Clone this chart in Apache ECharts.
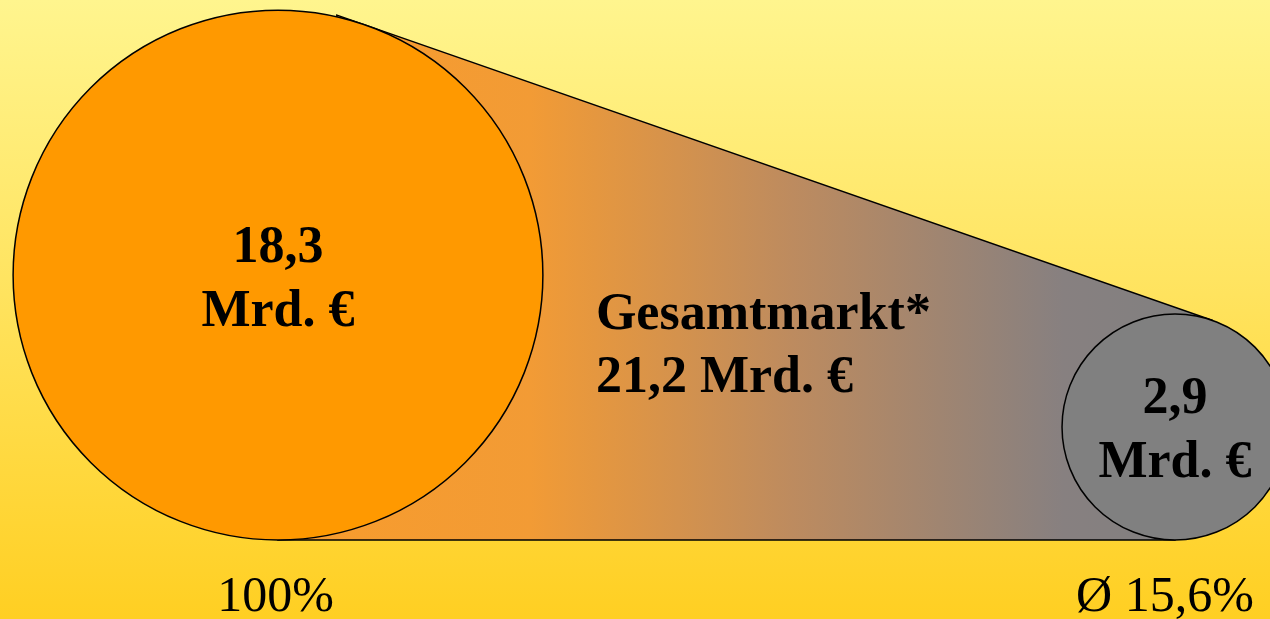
<!DOCTYPE html>
<html>

<head>
    <meta charset="utf-8">
    <title>Gesamtmarkt</title>
    <style>
        html, body {
            margin: 0;
            padding: 0;
        }

        #chartBox {
            width: 1270px;
            height: 619px;
            background: linear-gradient(to bottom, #fff58e 0%, #ffe461 45%, #ffcf22 100%);
        }
    </style>
</head>

<body>
    <div id="chartBox"></div>

    <script src="https://cdn.jsdelivr.net/npm/echarts@6/dist/echarts.min.js"></script>
    <script>
        // Daten
        var shareLabels = ['100%', 'Ø 15,6%'];
        var marketValues = [18.3, 2.9];
        var circleColors = ['#ff9900', '#808080'];
        var totalTitle = 'Gesamtmarkt*';
        var unitText = 'Mrd. €';

        var serif = '"Liberation Serif", "Times New Roman", serif';

        // Durchmesser aus dem Wert
        function diameter(v) {
            return 118 * Math.sqrt(v) + 25;
        }

        function fmt(v) {
            return v.toFixed(1).replace('.', ',');
        }

        var total = marketValues.reduce(function (a, b) { return a + b; }, 0);

        var myChart = echarts.init(document.getElementById('chartBox'));

        var circleData = marketValues.map(function (v, i) {
            var d = diameter(v);
            return {
                value: [i, 0, v],
                symbolSize: d,
                symbolOffset: [0, -d / 2],
                itemStyle: { color: circleColors[i] }
            };
        });

        // Verbindungsflaeche zwischen den beiden Kreisen
        function renderBand(params, api) {
            var p0 = api.coord([0, 0]);
            var p1 = api.coord([1, 0]);
            var r0 = diameter(marketValues[0]) / 2;
            var r1 = diameter(marketValues[1]) / 2;
            var c0 = [p0[0], p0[1] - r0];
            var c1 = [p1[0], p1[1] - r1];
            var dx = c1[0] - c0[0], dy = c1[1] - c0[1];
            var d = Math.sqrt(dx * dx + dy * dy);
            var ux = dx / d, uy = dy / d;
            var s = (r0 - r1) / d, c = Math.sqrt(1 - s * s);
            var nx = s * ux + c * uy;
            var ny = s * uy - c * ux;
            var t0 = [c0[0] + r0 * nx, c0[1] + r0 * ny];
            var t1 = [c1[0] + r1 * nx, c1[1] + r1 * ny];
            var lx = t1[0] - t0[0], ly = t1[1] - t0[1];
            var ll = Math.sqrt(lx * lx + ly * ly);
            var start = [t0[0] - 30 * lx / ll, t0[1] - 30 * ly / ll];

            return {
                type: 'group',
                children: [{
                    type: 'polygon',
                    shape: {
                        points: [start, t1, [p1[0], p1[1]], [p0[0], p0[1]]]
                    },
                    style: {
                        fill: new echarts.graphic.LinearGradient(0, 0, 1, 0, [
                            { offset: 0, color: '#f89c2c' },
                            { offset: 0.27, color: '#f29b35' },
                            { offset: 0.55, color: '#bd8b5f' },
                            { offset: 0.84, color: '#878080' },
                            { offset: 1, color: '#808080' }
                        ]),
                        stroke: '#000',
                        lineWidth: 1.5
                    }
                }, {
                    type: 'text',
                    x: c0[0] + r0 + 53,
                    y: p0[1] - 193,
                    style: {
                        text: totalTitle + '\n' + fmt(total) + ' ' + unitText,
                        font: 'bold 52px ' + serif,
                        lineHeight: 63,
                        fill: '#000',
                        align: 'left',
                        verticalAlign: 'middle'
                    }
                }]
            };
        }

        var option = {
            animation: false,
            grid: {
                left: 278,
                right: 95,
                top: 0,
                bottom: 79,
                outerBoundsMode: 'none'
            },
            xAxis: {
                type: 'category',
                data: shareLabels,
                boundaryGap: false,
                axisLine: { show: false },
                axisTick: { show: false },
                splitLine: { show: false },
                axisLabel: {
                    margin: 33,
                    fontSize: 50,
                    fontFamily: serif,
                    color: '#000',
                    formatter: function (val, idx) {
                        return idx === 0 ? '{a|' + val + '}' : '{b|' + val + '}';
                    },
                    rich: {
                        a: {
                            fontSize: 50,
                            fontFamily: serif,
                            color: '#000',
                            padding: [0, 5, 0, 0]
                        },
                        b: {
                            fontSize: 50,
                            fontFamily: serif,
                            color: '#000',
                            padding: [0, 20, 0, 0]
                        }
                    }
                }
            },
            yAxis: {
                type: 'value',
                min: 0,
                max: 1,
                show: false
            },
            series: [
                {
                    type: 'custom',
                    silent: true,
                    clip: false,
                    z: 1,
                    data: [[0, 0]],
                    renderItem: renderBand
                },
                {
                    type: 'scatter',
                    silent: true,
                    clip: false,
                    z: 2,
                    symbol: 'circle',
                    itemStyle: {
                        borderColor: '#000',
                        borderWidth: 1.5,
                        opacity: 1
                    },
                    label: {
                        show: true,
                        position: 'inside',
                        offset: [0, 5],
                        formatter: function (p) {
                            return fmt(p.value[2]) + '\n' + unitText;
                        },
                        fontFamily: serif,
                        fontWeight: 'bold',
                        fontSize: 52,
                        lineHeight: 64,
                        color: '#000'
                    },
                    data: circleData
                }
            ]
        };

        myChart.setOption(option);
    </script>
</body>

</html>
